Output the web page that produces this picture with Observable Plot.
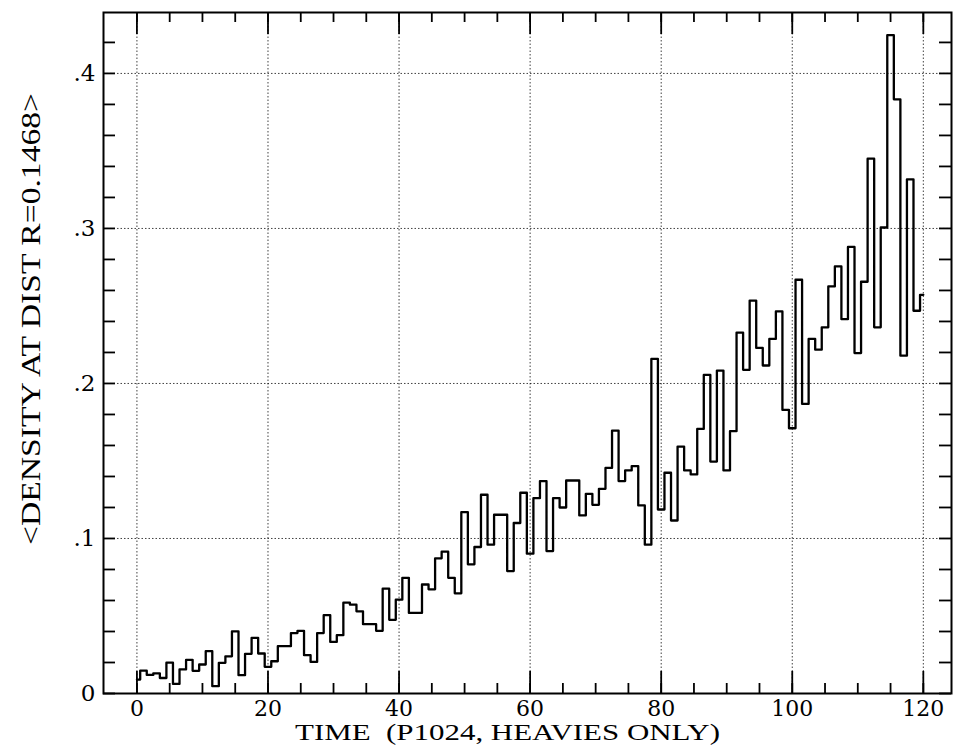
<!DOCTYPE html>
<html><head><meta charset="utf-8">
<script src="https://cdn.jsdelivr.net/npm/d3@7"></script>
<script src="https://cdn.jsdelivr.net/npm/@observablehq/plot@0.6"></script>
<style>body{margin:0;background:#fff}</style>
</head><body><div id="chart"></div>
<script>
// density at each integer time step 0..120
const density = [
  0.0090, 0.0147, 0.0120, 0.0130, 0.0100, 0.0199, 0.0062, 0.0155, 0.0217, 0.0146,
  0.0187, 0.0273, 0.0047, 0.0198, 0.0240, 0.0401, 0.0118, 0.0256, 0.0359, 0.0258,
  0.0172, 0.0208, 0.0305, 0.0305, 0.0390, 0.0404, 0.0247, 0.0204, 0.0390, 0.0505,
  0.0333, 0.0376, 0.0586, 0.0573, 0.0530, 0.0447, 0.0447, 0.0404, 0.0676, 0.0475,
  0.0605, 0.0746, 0.0520, 0.0520, 0.0703, 0.0672, 0.0872, 0.0915, 0.0746, 0.0646,
  0.1170, 0.0833, 0.0945, 0.1282, 0.0960, 0.1153, 0.1153, 0.0790, 0.1100, 0.1295,
  0.0902, 0.1260, 0.1370, 0.0919, 0.1260, 0.1200, 0.1374, 0.1374, 0.1149, 0.1288,
  0.1217, 0.1320, 0.1455, 0.1696, 0.1370, 0.1439, 0.1467, 0.1213, 0.0960, 0.2158,
  0.1187, 0.1424, 0.1116, 0.1593, 0.1439, 0.1413, 0.1707, 0.2055, 0.1496, 0.2083,
  0.1439, 0.1692, 0.2328, 0.2088, 0.2535, 0.2229, 0.2116, 0.2287, 0.2465, 0.1829,
  0.1711, 0.2669, 0.1868, 0.2287, 0.2218, 0.2362, 0.2626, 0.2755, 0.2415, 0.2881,
  0.2196, 0.2656, 0.3450, 0.2362, 0.3006, 0.4247, 0.3833, 0.2179, 0.3317, 0.2469,
  0.2572
];
const xMajorTicks = [0, 20, 40, 60, 80, 100, 120];
const xMinorTicks = [0, 5, 10, 15, 20, 25, 30, 35, 40, 45, 50, 55, 60, 65, 70, 75, 80, 85, 90, 95, 100, 105, 110, 115, 120];
const yMajorTicks = [0, 0.1, 0.2, 0.3, 0.4];
const yGridTicks = [0.1, 0.2, 0.3, 0.4];
const yMinorTicks = [0, 0.02, 0.04, 0.06, 0.08, 0.1, 0.12, 0.14, 0.16, 0.18, 0.2, 0.22, 0.24, 0.26, 0.28, 0.3, 0.32, 0.34, 0.36, 0.38, 0.4, 0.42];
const xTitle = "TIME\u00a0\u00a0(P1024, HEAVIES ONLY)";
const yTitle = "<DENSITY AT DIST R=0.1468>";

const data = density.map((d, i) => ({time: i, density: d}));

const W = 956, H = 749;
const mL = 103, mR = 5, mT = 12, mB = 56;
const fw = W - mL - mR, fh = H - mT - mB;

const chart = Plot.plot({
  width: W, height: H,
  marginLeft: mL, marginRight: mR, marginTop: mT, marginBottom: mB,
  x: {domain: [-5.1, 124.3]},
  y: {domain: [0, 0.4393]},
  style: {background: "white", fontFamily: "DejaVu Serif", fontSize: "22px", color: "black"},
  marks: [
    Plot.gridX(xMajorTicks, {stroke: "black", strokeOpacity: 0.75, strokeWidth: 1, strokeDasharray: "1.5,2"}),
    Plot.gridY(yGridTicks, {stroke: "black", strokeOpacity: 0.75, strokeWidth: 1, strokeDasharray: "1.5,2"}),
    // inward tick marks
    Plot.ruleX(xMinorTicks, {insetTop: fh - 10, stroke: "black", strokeWidth: 1.8}),
    Plot.ruleX(xMinorTicks, {insetBottom: fh - 10, stroke: "black", strokeWidth: 1.8}),
    Plot.ruleX(xMajorTicks, {insetTop: fh - 22, stroke: "black", strokeWidth: 1.8}),
    Plot.ruleX(xMajorTicks, {insetBottom: fh - 22, stroke: "black", strokeWidth: 1.8}),
    Plot.ruleY(yMinorTicks, {insetRight: fw - 12, stroke: "black", strokeWidth: 1.8}),
    Plot.ruleY(yMinorTicks, {insetLeft: fw - 12, stroke: "black", strokeWidth: 1.8}),
    Plot.axisX(xMajorTicks, {anchor: "bottom", tickSize: 0, tickPadding: 7, label: null, fontSize: 22}),
    Plot.axisY(yMajorTicks, {anchor: "left", tickSize: 0, tickPadding: 8, label: null, fontSize: 23,
      tickFormat: d => d === 0 ? "0" : d3.format(".1f")(d).replace(/^0/, "")}),
    Plot.line(data, {x: "time", y: "density", curve: "step", stroke: "black", strokeWidth: 2.3}),
    Plot.frame({stroke: "black", strokeWidth: 2}),
    Plot.text([xTitle], {frameAnchor: "bottom", textAnchor: "middle", dx: -20, dy: 39, lineAnchor: "middle",
      fontFamily: "Liberation Serif", fontSize: 23}),
    Plot.text([yTitle], {frameAnchor: "left", textAnchor: "middle", dx: -72, dy: -34, rotate: -90, lineAnchor: "middle",
      fontFamily: "Liberation Serif", fontSize: 27})
  ]
});
document.getElementById("chart").appendChild(chart);
// stretch titles to the reference's lengths
d3.select(chart).selectAll("text").each(function() {
  const t = this.textContent;
  if (t === xTitle) d3.select(this).attr("textLength", 425).attr("lengthAdjust", "spacingAndGlyphs");
  if (t === yTitle) d3.select(this).attr("textLength", 452).attr("lengthAdjust", "spacingAndGlyphs");
});
</script>
</body></html>
